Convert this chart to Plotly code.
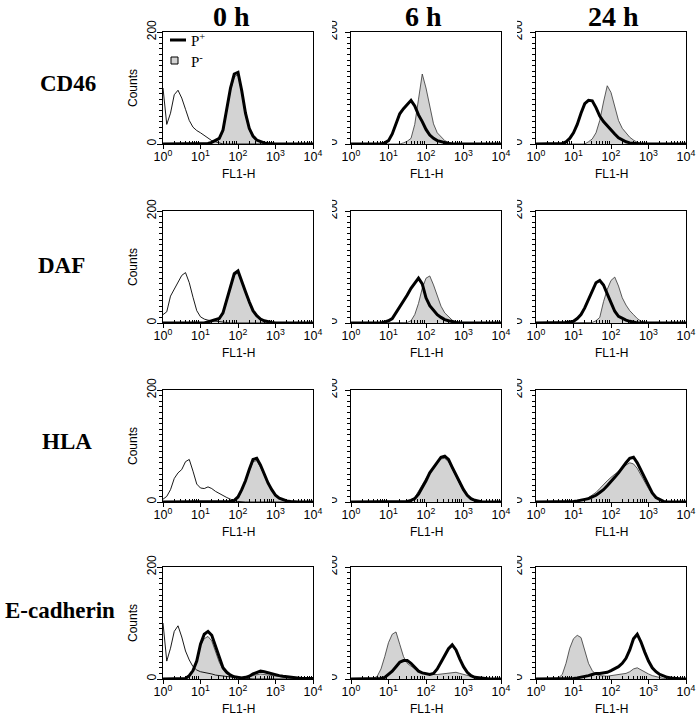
import plotly.graph_objects as go

# ---------------- data (counts per 0.1-decade FL1-H bin, 10^0 .. 10^4) ----------------
LOG_BINS = [i / 10 for i in range(41)]
FL1 = [10 ** d for d in LOG_BINS]

ROW_LABELS = ["CD46", "DAF", "HLA", "E-cadherin"]
COL_LABELS = ["0 h", "6 h", "24 h"]
X_TICK_VALS = [1, 10, 100, 1000, 10000]
X_TICK_TEXT = ["10<sup>0</sup>", "10<sup>1</sup>", "10<sup>2</sup>", "10<sup>3</sup>", "10<sup>4</sup>"]
Y_TICK_VALS = [0, 200]
Y_TICK_TEXT = ["0", "200"]

# CD46
CD46_0h_ctrl = [100, 35, 55, 88, 96, 82, 62, 42, 30, 24, 20, 15, 10, 6, 4, 2, 0, 0, 0, 0, 0, 0, 0, 0, 0, 0, 0, 0, 0, 0, 0, 0, 0, 0, 0, 0, 0, 0, 0, 0, 0]
CD46_0h_pos = [0, 0, 0, 0, 0, 0, 0, 0, 0, 0, 1, 1, 1, 3, 6, 10, 25, 62, 100, 125, 128, 95, 55, 28, 14, 7, 4, 2, 1, 0, 0, 0, 0, 0, 0, 0, 0, 0, 0, 0, 0]
CD46_0h_neg = [0, 0, 0, 0, 0, 0, 0, 0, 0, 0, 0, 0, 1, 2, 5, 8, 22, 58, 96, 120, 124, 92, 52, 26, 12, 6, 3, 1, 0, 0, 0, 0, 0, 0, 0, 0, 0, 0, 0, 0, 0]
CD46_6h_pos = [0, 0, 0, 0, 0, 0, 0, 0, 0, 2, 6, 18, 38, 54, 63, 70, 78, 68, 52, 40, 26, 16, 10, 6, 4, 2, 1, 0, 0, 0, 0, 0, 0, 0, 0, 0, 0, 0, 0, 0, 0]
CD46_6h_neg = [0, 0, 0, 0, 0, 0, 0, 0, 0, 0, 0, 0, 0, 0, 2, 5, 10, 35, 80, 125, 100, 65, 36, 20, 12, 6, 3, 1, 0, 0, 0, 0, 0, 0, 0, 0, 0, 0, 0, 0, 0]
CD46_24h_pos = [0, 0, 0, 0, 0, 0, 0, 1, 4, 10, 20, 35, 55, 72, 78, 77, 65, 50, 40, 32, 25, 18, 11, 7, 4, 2, 1, 0, 0, 0, 0, 0, 0, 0, 0, 0, 0, 0, 0, 0, 0]
CD46_24h_neg = [0, 0, 0, 0, 0, 0, 0, 0, 0, 0, 0, 0, 0, 0, 4, 9, 20, 42, 75, 104, 92, 65, 42, 28, 19, 12, 7, 3, 1, 0, 0, 0, 0, 0, 0, 0, 0, 0, 0, 0, 0]

# DAF
DAF_0h_ctrl = [15, 20, 48, 60, 72, 85, 90, 72, 46, 22, 11, 7, 5, 4, 4, 3, 1, 0, 0, 0, 0, 0, 0, 0, 0, 0, 0, 0, 0, 0, 0, 0, 0, 0, 0, 0, 0, 0, 0, 0, 0]
DAF_0h_pos = [0, 0, 0, 0, 0, 0, 0, 0, 0, 0, 0, 0, 2, 4, 6, 8, 18, 42, 68, 88, 93, 76, 56, 38, 22, 13, 7, 4, 2, 1, 0, 0, 0, 0, 0, 0, 0, 0, 0, 0, 0]
DAF_0h_neg = [0, 0, 0, 0, 0, 0, 0, 0, 0, 0, 0, 0, 1, 3, 5, 7, 16, 40, 66, 85, 90, 73, 53, 35, 20, 12, 6, 3, 1, 0, 0, 0, 0, 0, 0, 0, 0, 0, 0, 0, 0]
DAF_6h_pos = [0, 0, 0, 0, 0, 0, 0, 0, 0, 2, 4, 8, 18, 30, 40, 50, 62, 72, 80, 70, 45, 31, 22, 15, 10, 6, 4, 2, 1, 0, 0, 0, 0, 0, 0, 0, 0, 0, 0, 0, 0]
DAF_6h_neg = [0, 0, 0, 0, 0, 0, 0, 0, 0, 0, 0, 0, 0, 0, 0, 1, 4, 15, 35, 62, 80, 84, 68, 47, 30, 18, 11, 5, 2, 1, 0, 0, 0, 0, 0, 0, 0, 0, 0, 0, 0]
DAF_24h_pos = [0, 0, 0, 0, 0, 0, 0, 0, 1, 2, 3, 8, 15, 27, 42, 58, 72, 76, 68, 52, 36, 21, 12, 8, 5, 3, 1, 0, 0, 0, 0, 0, 0, 0, 0, 0, 0, 0, 0, 0, 0]
DAF_24h_neg = [0, 0, 0, 0, 0, 0, 0, 0, 0, 0, 0, 0, 0, 0, 0, 1, 4, 10, 38, 60, 76, 82, 66, 45, 32, 22, 15, 8, 3, 1, 0, 0, 0, 0, 0, 0, 0, 0, 0, 0, 0]

# HLA
HLA_0h_ctrl = [5, 10, 22, 42, 52, 58, 72, 76, 55, 32, 25, 24, 27, 24, 19, 15, 12, 8, 5, 2, 1, 0, 0, 0, 0, 0, 0, 0, 0, 0, 0, 0, 0, 0, 0, 0, 0, 0, 0, 0, 0]
HLA_0h_pos = [0, 0, 0, 0, 0, 0, 0, 0, 0, 0, 0, 0, 0, 0, 0, 0, 0, 0, 1, 3, 9, 22, 38, 58, 76, 78, 66, 50, 34, 22, 12, 7, 4, 2, 1, 0, 0, 0, 0, 0, 0]
HLA_0h_neg = [0, 0, 0, 0, 0, 0, 0, 0, 0, 0, 0, 0, 0, 0, 0, 0, 0, 0, 1, 3, 8, 20, 36, 55, 72, 74, 62, 47, 32, 20, 11, 6, 3, 2, 1, 0, 0, 0, 0, 0, 0]
HLA_6h_pos = [0, 0, 0, 0, 0, 0, 0, 0, 0, 0, 0, 0, 0, 0, 0, 1, 3, 6, 14, 25, 38, 52, 62, 72, 80, 82, 76, 62, 48, 34, 22, 12, 6, 3, 1, 0, 0, 0, 0, 0, 0]
HLA_6h_neg = [0, 0, 0, 0, 0, 0, 0, 0, 0, 0, 0, 0, 0, 0, 0, 2, 4, 8, 20, 32, 42, 52, 62, 70, 77, 78, 72, 60, 46, 32, 20, 11, 5, 2, 1, 0, 0, 0, 0, 0, 0]
HLA_24h_pos = [0, 0, 0, 0, 0, 0, 0, 0, 0, 1, 1, 2, 3, 4, 6, 9, 12, 17, 22, 29, 36, 44, 52, 62, 70, 78, 80, 70, 56, 42, 28, 16, 8, 4, 1, 0, 0, 0, 0, 0, 0]
HLA_24h_neg = [0, 0, 0, 0, 0, 0, 0, 0, 0, 0, 0, 2, 3, 5, 8, 12, 17, 24, 32, 38, 44, 50, 55, 60, 66, 70, 68, 60, 48, 35, 24, 14, 7, 3, 1, 0, 0, 0, 0, 0, 0]

# E-cadherin
ECAD_0h_ctrl = [100, 32, 55, 85, 95, 75, 50, 34, 22, 16, 13, 12, 11, 9, 7, 6, 5, 4, 4, 3, 2, 2, 1, 0, 0, 0, 0, 0, 0, 0, 0, 0, 0, 0, 0, 0, 0, 0, 0, 0, 0]
ECAD_0h_pos = [0, 0, 0, 0, 0, 0, 1, 6, 15, 32, 62, 80, 85, 78, 58, 36, 20, 12, 7, 4, 3, 2, 3, 5, 9, 12, 14, 13, 11, 10, 8, 6, 5, 4, 3, 2, 2, 1, 1, 1, 1]
ECAD_0h_neg = [0, 0, 0, 0, 0, 0, 1, 6, 16, 34, 60, 72, 76, 68, 50, 30, 17, 10, 6, 4, 3, 3, 3, 4, 6, 8, 9, 8, 7, 6, 5, 4, 3, 2, 2, 1, 1, 0, 0, 0, 0]
ECAD_6h_pos = [0, 0, 0, 0, 0, 0, 0, 0, 1, 3, 8, 14, 22, 30, 33, 33, 28, 20, 14, 11, 9, 8, 10, 18, 30, 42, 54, 61, 52, 36, 22, 12, 6, 3, 2, 1, 0, 0, 0, 0, 0]
ECAD_6h_neg = [0, 0, 0, 0, 0, 0, 1, 5, 18, 40, 65, 80, 84, 62, 40, 28, 23, 18, 15, 11, 9, 8, 8, 8, 9, 10, 11, 12, 12, 10, 8, 6, 4, 3, 2, 1, 0, 0, 0, 0, 0]
ECAD_24h_pos = [0, 0, 0, 0, 0, 0, 0, 0, 0, 0, 1, 2, 3, 4, 6, 8, 10, 10, 11, 12, 15, 19, 22, 28, 37, 52, 72, 80, 66, 48, 32, 20, 13, 8, 5, 3, 2, 1, 0, 0, 0]
ECAD_24h_neg = [0, 0, 0, 0, 0, 0, 2, 8, 28, 55, 72, 78, 74, 52, 28, 15, 8, 6, 5, 5, 6, 7, 8, 8, 10, 13, 18, 20, 16, 12, 9, 6, 4, 3, 1, 0, 0, 0, 0, 0, 0]

PANELS = [
    [(CD46_0h_pos, CD46_0h_neg, CD46_0h_ctrl), (CD46_6h_pos, CD46_6h_neg, None), (CD46_24h_pos, CD46_24h_neg, None)],
    [(DAF_0h_pos, DAF_0h_neg, DAF_0h_ctrl), (DAF_6h_pos, DAF_6h_neg, None), (DAF_24h_pos, DAF_24h_neg, None)],
    [(HLA_0h_pos, HLA_0h_neg, HLA_0h_ctrl), (HLA_6h_pos, HLA_6h_neg, None), (HLA_24h_pos, HLA_24h_neg, None)],
    [(ECAD_0h_pos, ECAD_0h_neg, ECAD_0h_ctrl), (ECAD_6h_pos, ECAD_6h_neg, None), (ECAD_24h_pos, ECAD_24h_neg, None)],
]

# ---------------- layout geometry (pixels in the 700x720 page) ----------------
W, H = 700, 720
COL_LEFT = [163, 351, 536]
PANEL_W = 150
ROW_TOP = [32, 211, 390, 567]
PANEL_H = 112
ROW_LABEL_POS = [(68, 83), (62, 265), (67, 441), (60, 610)]
COL_LABEL_POS = [(231, 16), (423, 16), (613, 16)]

SANS = "Liberation Sans, Arial, sans-serif"
SERIF = "Liberation Serif, Times New Roman, serif"

def px(x):
    return x / W

def py(y):
    return 1 - y / H

MINOR_X = [k * 10 ** e for e in range(4) for k in range(2, 10)]

fig = go.Figure()
layout = dict(
    width=W, height=H, margin=dict(l=0, r=0, t=0, b=0, autoexpand=False),
    paper_bgcolor="white", plot_bgcolor="white", showlegend=False,
    font=dict(family=SANS, color="black", size=12),
)
annotations = []
shapes = []

k = 0
for r in range(4):
    for c in range(3):
        k += 1
        xa = "x" if k == 1 else f"x{k}"
        ya = "y" if k == 1 else f"y{k}"
        pos, neg, ctrl = PANELS[r][c]
        fig.add_trace(go.Scatter(x=FL1, y=neg, xaxis=xa, yaxis=ya, mode="lines",
                                 fill="tozeroy", fillcolor="#d3d3d3",
                                 line=dict(color="#333333", width=0.8), hoverinfo="skip"))
        if ctrl is not None:
            fig.add_trace(go.Scatter(x=FL1, y=ctrl, xaxis=xa, yaxis=ya, mode="lines",
                                     line=dict(color="black", width=0.9), hoverinfo="skip"))
        fig.add_trace(go.Scatter(x=FL1, y=pos, xaxis=xa, yaxis=ya, mode="lines",
                                 line=dict(color="black", width=3), hoverinfo="skip"))
        L = COL_LEFT[c]
        T = ROW_TOP[r]
        xkey = "xaxis" if k == 1 else f"xaxis{k}"
        ykey = "yaxis" if k == 1 else f"yaxis{k}"
        layout[xkey] = dict(
            domain=[px(L), px(L + PANEL_W)], anchor=ya, type="log", range=[0, 4],
            automargin=False,
            tickmode="array", tickvals=X_TICK_VALS, ticktext=X_TICK_TEXT,
            ticks="outside", ticklen=4, tickwidth=1, tickcolor="black",
            ticklabelstandoff=-3,
            minor=dict(ticks="inside", ticklen=3, tickwidth=1, tickcolor="black",
                       tickmode="array", tickvals=MINOR_X),
            showline=True, linecolor="black", linewidth=1, mirror=True,
            showgrid=False, zeroline=False, tickfont=dict(family=SANS, size=12.5),
            fixedrange=True,
        )
        layout[ykey] = dict(
            domain=[py(T + PANEL_H), py(T)], anchor=xa, range=[0, 200],
            automargin=False,
            tickmode="array", tickvals=Y_TICK_VALS, ticktext=Y_TICK_TEXT,
            ticks="outside", ticklen=5, tickwidth=1, tickcolor="black", tickangle=-90,
            ticklabelstandoff=(-4 if c == 0 else 3),
            minor=dict(ticks="outside", ticklen=3, tickwidth=1, tickcolor="black", dtick=10),
            showline=True, linecolor="black", linewidth=1, mirror=True,
            showgrid=False, zeroline=False, tickfont=dict(family=SANS, size=12),
            fixedrange=True,
        )
        annotations.append(dict(text="FL1-H", x=px(L + PANEL_W / 2), y=py(T + PANEL_H + 30),
                                xref="paper", yref="paper", showarrow=False,
                                xanchor="center", yanchor="middle",
                                font=dict(family=SANS, size=12)))
        if c == 0:
            annotations.append(dict(text="Counts", x=px(133), y=py(T + PANEL_H / 2),
                                    xref="paper", yref="paper", showarrow=False, textangle=-90,
                                    xanchor="center", yanchor="middle",
                                    font=dict(family=SANS, size=12)))
        else:
            # the scanned original cuts the y tick labels of the right columns in half
            shapes.append(dict(type="rect", xref="paper", yref="paper",
                               x0=px(L - 28), x1=px(L - 19),
                               y0=py(T + PANEL_H + 5), y1=py(T - 12),
                               fillcolor="white", line=dict(width=0), layer="above"))

for (label, (x, y)) in zip(ROW_LABELS, ROW_LABEL_POS):
    annotations.append(dict(text=f"<b>{label}</b>", x=px(x), y=py(y), xref="paper", yref="paper",
                            showarrow=False, xanchor="center", yanchor="middle",
                            font=dict(family=SERIF, size=23)))
for (label, (x, y)) in zip(COL_LABELS, COL_LABEL_POS):
    annotations.append(dict(text=f"<b>{label}</b>", x=px(x), y=py(y), xref="paper", yref="paper",
                            showarrow=False, xanchor="center", yanchor="middle",
                            font=dict(family=SERIF, size=28)))

# legend key inside the first panel
shapes.append(dict(type="line", xref="paper", yref="paper", x0=px(170), x1=px(186),
                   y0=py(40), y1=py(40), line=dict(color="black", width=3)))
shapes.append(dict(type="rect", xref="paper", yref="paper", x0=px(171), x1=px(178),
                   y0=py(64), y1=py(57), fillcolor="#d3d3d3", line=dict(color="black", width=1)))
annotations.append(dict(text="P<sup>+</sup>", x=px(189), y=py(40), xref="paper", yref="paper",
                        showarrow=False, xanchor="left", yanchor="middle",
                        font=dict(family=SERIF, size=15)))
annotations.append(dict(text="P<sup>-</sup>", x=px(189), y=py(61), xref="paper", yref="paper",
                        showarrow=False, xanchor="left", yanchor="middle",
                        font=dict(family=SERIF, size=15)))

layout["annotations"] = annotations
layout["shapes"] = shapes
fig.update_layout(**layout)
# remove the default 8px page margin so the 700x720 figure fills the window exactly
fig.write_html("out.html", config={"displayModeBar": False, "staticPlot": True},
               post_script="document.body.style.margin='0';document.body.style.overflow='hidden';")
